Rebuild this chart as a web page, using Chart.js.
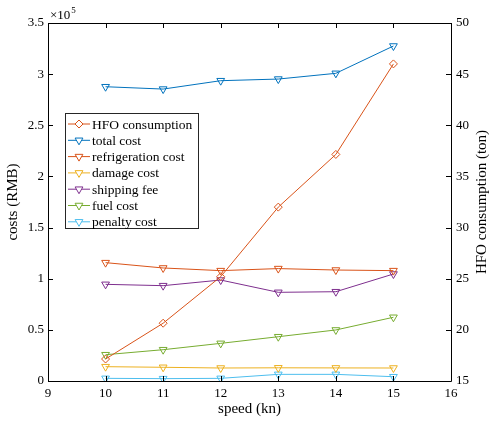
<!DOCTYPE html>
<html>
<head>
<meta charset="utf-8">
<script src="https://cdn.jsdelivr.net/npm/chart.js@4"></script>
<style>
  html, body { margin: 0; padding: 0; background: #fff; }
  #wrap { width: 490px; height: 423px; }
</style>
</head>
<body>
<div id="wrap"><canvas id="costChart" width="490" height="423"></canvas></div>
<script>
  // speed (kn) on the x axis
  const speeds = [10, 11, 12, 13, 14, 15];
  // HFO consumption (ton), right axis
  const hfoConsumption = [17.15, 20.65, 25.2, 32.0, 37.15, 46.0];
  // costs (RMB), left axis
  const totalCost = [287700, 285400, 293600, 295200, 300800, 327500];
  const refrigerationCost = [115700, 110500, 107900, 109900, 108500, 107900];
  const damageCost = [14000, 13400, 12700, 12900, 12800, 12700];
  const shippingFee = [94500, 93200, 98700, 86700, 87300, 104600];
  const fuelCost = [25700, 30600, 36800, 43300, 49900, 62300];
  const penaltyCost = [2600, 2300, 2600, 6500, 6500, 4200];

  const FONT = "'Liberation Serif', 'Times New Roman', serif";
  const rightTitle = 'HFO consumption (ton)';

  const pts = arr => arr.map((v, i) => ({ x: speeds[i], y: v }));

  function series(label, data, color, axis, style) {
    return {
      label: label,
      data: pts(data),
      yAxisID: axis,
      borderColor: color,
      backgroundColor: 'transparent',
      borderWidth: 1,
      pointStyle: style,
      pointRotation: style === 'triangle' ? 180 : 0,
      pointRadius: style === 'triangle' ? 4.5 : 4,
      pointBorderWidth: 1,
      pointBackgroundColor: 'transparent',
      tension: 0
    };
  }

  const datasets = [
    series('HFO consumption', hfoConsumption, '#D95319', 'y1', 'rectRot'),
    series('total cost', totalCost, '#0072BD', 'y', 'triangle'),
    series('refrigeration cost', refrigerationCost, '#D95319', 'y', 'triangle'),
    series('damage cost', damageCost, '#EDB120', 'y', 'triangle'),
    series('shipping fee', shippingFee, '#7E2F8E', 'y', 'triangle'),
    series('fuel cost', fuelCost, '#77AC30', 'y', 'triangle'),
    series('penalty cost', penaltyCost, '#4DBEEE', 'y', 'triangle')
  ];

  // inward ticks, box, exponent label, right title and the legend box
  const matlabLook = {
    id: 'matlabLook',
    afterDraw(chart) {
      const ctx = chart.ctx;
      const a = chart.chartArea;
      const sx = chart.scales.x, sy = chart.scales.y, sy1 = chart.scales.y1;
      ctx.save();
      ctx.strokeStyle = '#000';
      ctx.lineWidth = 1;
      ctx.beginPath();
      ctx.rect(Math.round(a.left) + 0.5, Math.round(a.top) + 0.5,
               Math.round(a.right - a.left), Math.round(a.bottom - a.top));
      ctx.stroke();
      const tl = 5;
      ctx.beginPath();
      sx.ticks.forEach(t => {
        const px = Math.round(sx.getPixelForValue(t.value)) + 0.5;
        ctx.moveTo(px, a.bottom); ctx.lineTo(px, a.bottom - tl);
        ctx.moveTo(px, a.top); ctx.lineTo(px, a.top + tl);
      });
      sy.ticks.forEach(t => {
        const py = Math.round(sy.getPixelForValue(t.value)) + 0.5;
        ctx.moveTo(a.left, py); ctx.lineTo(a.left + tl, py);
      });
      sy1.ticks.forEach(t => {
        const py = Math.round(sy1.getPixelForValue(t.value)) + 0.5;
        ctx.moveTo(a.right, py); ctx.lineTo(a.right - tl, py);
      });
      ctx.stroke();

      // x10^5 multiplier
      ctx.fillStyle = '#000';
      ctx.textBaseline = 'alphabetic';
      ctx.textAlign = 'left';
      ctx.font = '13px ' + FONT;
      ctx.fillText('\u00d710', a.left + 2, a.top - 4);
      const w = ctx.measureText('\u00d710').width;
      ctx.font = '9px ' + FONT;
      ctx.fillText('5', a.left + 2 + w + 1, a.top - 10);

      // right axis title, reading bottom to top
      ctx.save();
      ctx.translate(482, (a.top + a.bottom) / 2);
      ctx.rotate(-Math.PI / 2);
      ctx.font = '15px ' + FONT;
      ctx.textAlign = 'center';
      ctx.textBaseline = 'middle';
      ctx.fillText(rightTitle, 0, 0);
      ctx.restore();

      // legend
      const lx = 65, ly = 113, lw = 133, lh = 115, row = 16.3;
      ctx.fillStyle = '#fff';
      ctx.fillRect(lx, ly, lw, lh);
      ctx.strokeStyle = '#262626';
      ctx.strokeRect(lx + 0.5, ly + 0.5, lw, lh);
      ctx.font = '13.5px ' + FONT;
      ctx.textAlign = 'left';
      ctx.textBaseline = 'middle';
      chart.data.datasets.forEach((ds, i) => {
        const cy = ly + 11 + i * row;
        ctx.strokeStyle = ds.borderColor;
        ctx.lineWidth = 1;
        ctx.beginPath();
        ctx.moveTo(lx + 3, cy); ctx.lineTo(lx + 25, cy);
        ctx.stroke();
        ctx.fillStyle = '#fff';
        Chart.helpers.drawPoint(ctx, {
          pointStyle: ds.pointStyle, rotation: ds.pointRotation,
          radius: ds.pointRadius, borderWidth: 1
        }, lx + 14, cy);
        ctx.fillStyle = '#000';
        ctx.fillText(ds.label, lx + 27, cy + 1);
      });
      ctx.restore();
    }
  };

  const tickFont = { family: FONT, size: 13 };
  const titleFont = { family: FONT, size: 15, weight: 'normal' };

  new Chart(document.getElementById('costChart'), {
    type: 'line',
    data: { datasets: datasets },
    options: {
      responsive: false,
      animation: false,
      layout: { padding: { top: 23, right: 0, left: 0, bottom: 0 } },
      plugins: { legend: { display: false }, tooltip: { enabled: false } },
      scales: {
        x: {
          type: 'linear', min: 9, max: 16,
          ticks: { stepSize: 1, color: '#000', font: tickFont, padding: 5 },
          grid: { display: false, drawTicks: false },
          border: { display: false },
          title: { display: true, text: 'speed (kn)', color: '#000', font: titleFont, padding: { top: 0, bottom: 5 } },
          afterFit: s => { s.height = 42; }
        },
        y: {
          position: 'left', min: 0, max: 350000,
          ticks: { stepSize: 50000, color: '#000', font: tickFont, padding: 4,
                   callback: v => String(v / 100000) },
          grid: { display: false, drawTicks: false },
          border: { display: false },
          title: { display: true, text: 'costs (RMB)', color: '#000', font: titleFont, padding: { top: 4, bottom: 0 } },
          afterFit: s => { s.width = 48; }
        },
        y1: {
          position: 'right', min: 15, max: 50,
          ticks: { stepSize: 5, color: '#000', font: tickFont, padding: 5 },
          grid: { display: false, drawTicks: false },
          border: { display: false },
          afterFit: s => { s.width = 39; }
        }
      }
    },
    plugins: [matlabLook]
  });
</script>
</body>
</html>
